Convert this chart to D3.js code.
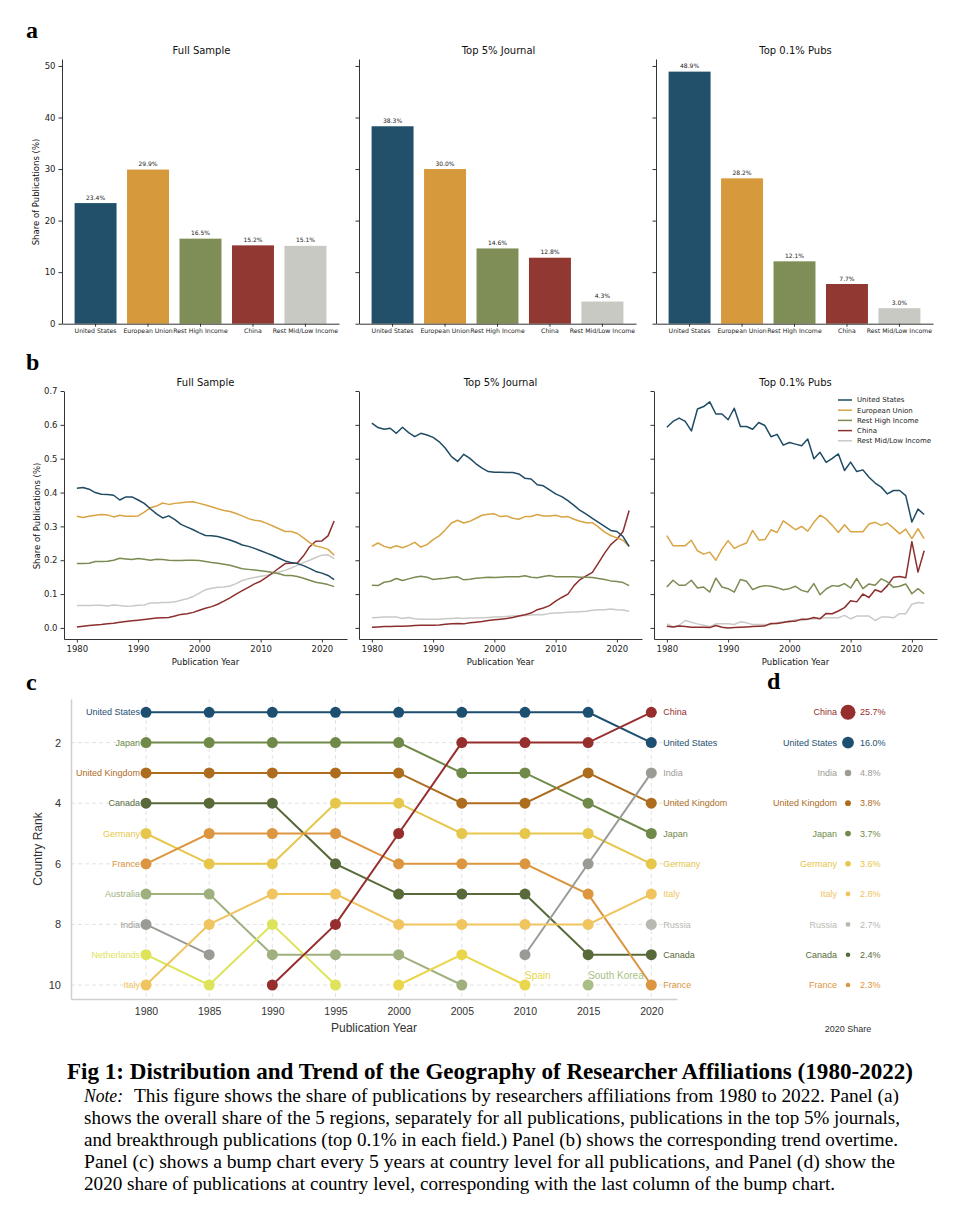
<!DOCTYPE html>
<html><head><meta charset="utf-8">
<script src="https://cdn.jsdelivr.net/npm/d3@7"></script>
<style>body{margin:0;background:#fff}svg{display:block}</style>
</head><body>
<svg id="chart" width="977" height="1232"></svg>
<script>
// ---------------- DATA ----------------
const regions = ["United States","European Union","Rest High Income","China","Rest Mid/Low Income"];
const regionColors = ["#22506a","#d6993c","#7f8e57","#923833","#c8c9c2"];
const lineColors = ["#1f4b63","#d8a444","#7b8b52","#8c2e2e","#c9c9c6"];
const panelTitles = ["Full Sample","Top 5% Journal","Top 0.1% Pubs"];

const shareFull  = [23.4,29.9,16.5,15.2,15.1];
const shareTop5  = [38.3,30.0,14.6,12.8,4.3];
const shareTop01 = [48.9,28.2,12.1,7.7,3.0];
const barTicks = [0,10,20,30,40,50];

const years = [1980,1981,1982,1983,1984,1985,1986,1987,1988,1989,1990,1991,1992,1993,1994,1995,1996,1997,1998,1999,2000,2001,2002,2003,2004,2005,2006,2007,2008,2009,2010,2011,2012,2013,2014,2015,2016,2017,2018,2019,2020,2021,2022];
const lineYTicks = [0,0.1,0.2,0.3,0.4,0.5,0.6,0.7];
const lineXTicks = [1980,1990,2000,2010,2020];

const fullUS  = [0.413,0.415,0.410,0.400,0.395,0.394,0.392,0.378,0.387,0.387,0.378,0.368,0.352,0.337,0.325,0.331,0.320,0.306,0.298,0.290,0.281,0.273,0.272,0.270,0.265,0.260,0.253,0.245,0.241,0.235,0.228,0.221,0.214,0.206,0.198,0.193,0.190,0.184,0.176,0.167,0.162,0.155,0.143];
const fullEU  = [0.330,0.326,0.330,0.333,0.335,0.334,0.328,0.333,0.330,0.330,0.331,0.342,0.355,0.360,0.369,0.365,0.368,0.370,0.372,0.373,0.368,0.363,0.358,0.352,0.347,0.344,0.338,0.331,0.323,0.318,0.316,0.309,0.301,0.293,0.285,0.285,0.279,0.266,0.252,0.242,0.238,0.232,0.215];
const fullRHI = [0.190,0.190,0.191,0.196,0.196,0.197,0.200,0.206,0.204,0.202,0.205,0.203,0.200,0.203,0.202,0.200,0.199,0.199,0.200,0.200,0.199,0.196,0.193,0.191,0.188,0.185,0.180,0.175,0.173,0.171,0.169,0.167,0.164,0.160,0.155,0.155,0.152,0.147,0.141,0.135,0.132,0.128,0.122];
const fullCN  = [0.003,0.005,0.007,0.009,0.010,0.012,0.014,0.017,0.019,0.021,0.023,0.025,0.027,0.029,0.030,0.031,0.035,0.040,0.042,0.046,0.052,0.058,0.063,0.070,0.079,0.089,0.100,0.110,0.120,0.130,0.138,0.150,0.163,0.177,0.190,0.191,0.192,0.213,0.240,0.256,0.257,0.272,0.316];
const fullRML = [0.066,0.066,0.066,0.067,0.067,0.065,0.068,0.066,0.064,0.065,0.067,0.068,0.074,0.074,0.075,0.075,0.077,0.082,0.086,0.093,0.103,0.113,0.117,0.120,0.121,0.124,0.131,0.140,0.145,0.149,0.153,0.155,0.160,0.165,0.170,0.177,0.185,0.193,0.200,0.208,0.215,0.216,0.205];

const top5US  = [0.605,0.592,0.587,0.590,0.575,0.593,0.577,0.565,0.575,0.570,0.563,0.550,0.531,0.506,0.492,0.513,0.501,0.485,0.472,0.462,0.460,0.460,0.459,0.459,0.455,0.442,0.440,0.423,0.420,0.408,0.396,0.388,0.376,0.362,0.347,0.336,0.324,0.312,0.300,0.288,0.285,0.270,0.241];
const top5EU  = [0.241,0.251,0.241,0.236,0.243,0.237,0.244,0.253,0.239,0.246,0.261,0.272,0.290,0.310,0.318,0.310,0.315,0.324,0.333,0.336,0.337,0.329,0.331,0.324,0.321,0.329,0.329,0.335,0.331,0.331,0.333,0.328,0.329,0.321,0.315,0.311,0.311,0.298,0.283,0.273,0.266,0.259,0.241];
const top5RHI = [0.126,0.125,0.135,0.138,0.146,0.140,0.145,0.150,0.153,0.150,0.143,0.145,0.147,0.150,0.151,0.142,0.144,0.147,0.148,0.150,0.149,0.150,0.151,0.151,0.151,0.154,0.150,0.148,0.152,0.155,0.151,0.151,0.151,0.151,0.150,0.150,0.149,0.146,0.143,0.139,0.137,0.134,0.125];
const top5CN  = [0.002,0.003,0.004,0.004,0.005,0.005,0.006,0.007,0.008,0.008,0.008,0.009,0.011,0.012,0.013,0.012,0.015,0.017,0.019,0.022,0.024,0.026,0.028,0.031,0.035,0.039,0.044,0.054,0.059,0.066,0.079,0.090,0.100,0.125,0.143,0.154,0.164,0.192,0.221,0.246,0.262,0.285,0.347];
const top5RML = [0.030,0.031,0.032,0.032,0.032,0.028,0.031,0.027,0.026,0.026,0.026,0.026,0.027,0.028,0.029,0.028,0.029,0.029,0.030,0.031,0.032,0.033,0.034,0.035,0.036,0.037,0.038,0.040,0.039,0.043,0.044,0.045,0.046,0.047,0.048,0.049,0.052,0.054,0.054,0.056,0.054,0.053,0.049];

const top01US  = [0.593,0.610,0.620,0.610,0.582,0.647,0.654,0.668,0.632,0.632,0.615,0.649,0.595,0.595,0.587,0.607,0.598,0.565,0.572,0.540,0.548,0.543,0.538,0.558,0.500,0.519,0.489,0.501,0.514,0.465,0.490,0.462,0.467,0.445,0.428,0.416,0.396,0.406,0.406,0.391,0.313,0.351,0.335];
const top01EU  = [0.273,0.243,0.243,0.243,0.259,0.228,0.218,0.224,0.200,0.233,0.258,0.235,0.244,0.251,0.288,0.260,0.261,0.290,0.282,0.316,0.304,0.290,0.300,0.286,0.312,0.333,0.322,0.303,0.282,0.305,0.284,0.284,0.284,0.307,0.312,0.303,0.310,0.295,0.278,0.292,0.264,0.293,0.264];
const top01RHI = [0.121,0.141,0.126,0.126,0.141,0.118,0.121,0.106,0.147,0.121,0.116,0.106,0.143,0.138,0.113,0.121,0.125,0.123,0.119,0.113,0.116,0.123,0.111,0.106,0.131,0.098,0.115,0.125,0.123,0.131,0.118,0.146,0.116,0.130,0.126,0.145,0.136,0.120,0.123,0.130,0.101,0.116,0.101];
const top01CN  = [0.005,0.003,0.006,0.004,0.002,0.002,0.002,0.001,0.007,0.002,0.000,0.001,0.002,0.003,0.004,0.005,0.006,0.013,0.013,0.016,0.020,0.020,0.026,0.026,0.031,0.027,0.043,0.042,0.050,0.060,0.080,0.077,0.100,0.090,0.113,0.106,0.125,0.150,0.152,0.148,0.255,0.165,0.228];
const top01RML = [0.012,0.003,0.008,0.022,0.017,0.012,0.008,0.004,0.012,0.012,0.012,0.010,0.018,0.015,0.010,0.010,0.010,0.010,0.015,0.018,0.016,0.025,0.022,0.025,0.027,0.028,0.030,0.030,0.030,0.037,0.027,0.035,0.035,0.035,0.022,0.032,0.032,0.030,0.042,0.042,0.070,0.075,0.073];

// bump chart
const bumpYears = [1980,1985,1990,1995,2000,2005,2010,2015,2020];
const rankTicks = [2,4,6,8,10];
const bumpCountries = ["United States","Japan","United Kingdom","Canada","Germany","France","Australia","India","Netherlands","Italy","China","Spain","South Korea","Russia"];
const bumpColors    = ["#1d4f70","#6f8a48","#ae6d1e","#586a3a","#e6c64b","#dc9640","#9fb07f","#9b9b96","#dde45a","#f0c45e","#962e2e","#e9d64b","#a9bf86","#b9b9b3"];
const rankUS   = [1,1,1,1,1,1,1,1,2];
const rankJP   = [2,2,2,2,2,3,3,4,5];
const rankUK   = [3,3,3,3,3,4,4,3,4];
const rankCA   = [4,4,4,6,7,7,7,9,9];
const rankDE   = [5,6,6,4,4,5,5,5,6];
const rankFR   = [6,5,5,5,6,6,6,7,10];
const rankAU   = [7,7,9,9,9,10,null,null,null];
const rankIN   = [8,9,null,null,null,null,9,6,3];
const rankNL   = [9,10,8,10,null,null,null,null,null];
const rankIT   = [10,8,7,7,8,8,8,8,7];
const rankCN   = [null,null,10,8,5,2,2,2,1];
const rankES   = [null,null,null,null,10,9,10,null,null];
const rankKR   = [null,null,null,null,null,null,null,10,null];
const rankRU   = [null,null,null,null,null,null,null,null,8];
const bumpRanks = [rankUS,rankJP,rankUK,rankCA,rankDE,rankFR,rankAU,rankIN,rankNL,rankIT,rankCN,rankES,rankKR,rankRU];
const midLabels = ["Spain","South Korea"];

// panel d
const countries2020 = ["China","United States","India","United Kingdom","Japan","Germany","Italy","Russia","Canada","France"];
const share2020 = [25.7,16.0,4.8,3.8,3.7,3.6,2.8,2.7,2.4,2.3];

const captionTitle = "Fig 1: Distribution and Trend of the Geography of Researcher Affiliations (1980-2022)";
const noteLines = [
 "This figure shows the share of publications by researchers affiliations from 1980 to 2022. Panel (a)",
 "shows the overall share of the 5 regions, separately for all publications, publications in the top 5% journals,",
 "and breakthrough publications (top 0.1% in each field.) Panel (b) shows the corresponding trend overtime.",
 "Panel (c) shows a bump chart every 5 years at country level for all publications, and Panel (d) show the",
 "2020 share of publications at country level, corresponding with the last column of the bump chart."
];

// ---------------- DRAW ----------------
const svg = d3.select("#chart");
svg.append("rect").attr("width",977).attr("height",1232).attr("fill","#fff");
const MPL = "'DejaVu Sans', sans-serif";
const ARIAL = "'Liberation Sans', Arial, sans-serif";
const SERIF = "'Liberation Serif', 'Times New Roman', serif";
const AX = "#333";

function styleAxis(g, fs, family, color) {
  g.selectAll(".domain").attr("stroke", color || AX).attr("stroke-width", 1);
  g.selectAll(".tick line").attr("stroke", color || AX).attr("stroke-width", 1);
  g.selectAll(".tick text").attr("fill", "#222").style("fill", "#222").attr("font-size", fs).attr("font-family", family);
}

// panel letters
[["a",26,38],["b",26,370],["c",26,690],["d",767,689]].forEach(([t,x,y])=>{
  svg.append("text").attr("x",x).attr("y",y).text(t)
    .attr("font-family",SERIF).attr("font-weight","bold").attr("font-size",24).attr("fill","#000");
});

// ---- Panel a ----
const barSets = [shareFull, shareTop5, shareTop01];
const aX0 = [62,359,656], aW = 277, aTop = 59, aBot = 323.7;
const yA = d3.scaleLinear().domain([0,51.35]).range([aBot,aTop]);
barSets.forEach((vals,i)=>{
  const x = d3.scaleBand().domain(regions).range([aX0[i], aX0[i]+aW]).paddingInner(0.2).paddingOuter(0.24);
  const g = svg.append("g");
  g.selectAll("rect").data(regions).join("rect")
    .attr("x", d=>x(d)).attr("width", x.bandwidth())
    .attr("y", (d,j)=>yA(vals[j])).attr("height", (d,j)=>aBot - yA(vals[j]))
    .attr("fill", (d,j)=>regionColors[j]);
  g.selectAll("text.v").data(regions).join("text").attr("class","v")
    .attr("x", d=>x(d)+x.bandwidth()/2).attr("y", (d,j)=>yA(vals[j]) - 3.5)
    .attr("text-anchor","middle").attr("font-size",6).attr("font-family",MPL).attr("fill","#222")
    .text((d,j)=>vals[j].toFixed(1)+"%");
  const gx = svg.append("g").attr("transform",`translate(0,${aBot})`)
    .call(d3.axisBottom(x).tickSize(3).tickSizeOuter(0).tickPadding(2));
  styleAxis(gx, 6.2, MPL);
  const gy = svg.append("g").attr("transform",`translate(${aX0[i]},0)`)
    .call(d3.axisLeft(yA).tickValues(barTicks).tickSize(3.5).tickSizeOuter(0).tickPadding(3)
      .tickFormat(i===0 ? d3.format("d") : ()=>""));
  styleAxis(gy, 8.5, MPL);
  svg.append("text").attr("x", aX0[i]+aW/2+1).attr("y", 54).attr("text-anchor","middle")
    .attr("font-size",10).attr("font-family",MPL).attr("fill","#111").text(panelTitles[i]);
});
svg.append("text").attr("transform","translate(39,192) rotate(-90)").attr("text-anchor","middle")
  .attr("font-size",8.5).attr("font-family",MPL).attr("fill","#111").text("Share of Publications (%)");

// ---- Panel b ----
const lineSets = [
  [fullUS, fullEU, fullRHI, fullCN, fullRML],
  [top5US, top5EU, top5RHI, top5CN, top5RML],
  [top01US, top01EU, top01RHI, top01CN, top01RML]
];
const bX0 = [64,359,654], bW = 283, bTop = 391, bBot = 639;
const yB = d3.scaleLinear().domain([-0.0327,0.7]).range([bBot,bTop]);
lineSets.forEach((series,i)=>{
  const x = d3.scaleLinear().domain([1977.9,2024.1]).range([bX0[i], bX0[i]+bW]);
  const line = d3.line().x((d,k)=>x(years[k])).y(d=>yB(d));
  const order = [4,3,2,1,0];
  order.forEach(j=>{
    svg.append("path").datum(series[j]).attr("d", line)
      .attr("fill","none").attr("stroke", lineColors[j]).attr("stroke-width",1.5).attr("stroke-linejoin","round");
  });
  const gx = svg.append("g").attr("transform",`translate(0,${bBot})`)
    .call(d3.axisBottom(x).tickValues(lineXTicks).tickFormat(d3.format("d")).tickSize(3.5).tickSizeOuter(0).tickPadding(3));
  styleAxis(gx, 8.5, MPL);
  const gy = svg.append("g").attr("transform",`translate(${bX0[i]},0)`)
    .call(d3.axisLeft(yB).tickValues(lineYTicks).tickSize(3.5).tickSizeOuter(0).tickPadding(3)
      .tickFormat(i===0 ? d3.format(".1f") : ()=>""));
  styleAxis(gy, 8.5, MPL);
  svg.append("text").attr("x", bX0[i]+bW/2).attr("y", 386).attr("text-anchor","middle")
    .attr("font-size",10).attr("font-family",MPL).attr("fill","#111").text(panelTitles[i]);
  svg.append("text").attr("x", bX0[i]+bW/2).attr("y", 665).attr("text-anchor","middle")
    .attr("font-size",8.5).attr("font-family",MPL).attr("fill","#111").text("Publication Year");
});
svg.append("text").attr("transform","translate(40,516) rotate(-90)").attr("text-anchor","middle")
  .attr("font-size",8.5).attr("font-family",MPL).attr("fill","#111").text("Share of Publications (%)");
// legend
const leg = svg.append("g");
regions.forEach((r,j)=>{
  const yy = 400 + j*10.2;
  leg.append("line").attr("x1",838).attr("x2",852).attr("y1",yy).attr("y2",yy)
    .attr("stroke",lineColors[j]).attr("stroke-width",1.5);
  leg.append("text").attr("x",857).attr("y",yy).attr("dy","0.35em").attr("font-size",7)
    .attr("font-family",MPL).attr("fill","#222").text(r);
});

// ---- Panel c ----
const cL = 71, cR = 677, cTop = 699, cBot = 999;
const xC = d3.scaleLinear().domain([1980,2020]).range([146,651.3]);
const yC = d3.scaleLinear().domain([1,10]).range([712.3,985]);
const grid = svg.append("g");
bumpYears.forEach(yr=>{
  grid.append("line").attr("x1",xC(yr)).attr("x2",xC(yr)).attr("y1",cTop).attr("y2",cBot)
    .attr("stroke","#dadada").attr("stroke-width",0.8).attr("stroke-dasharray","4,3");
});
rankTicks.forEach(r=>{
  grid.append("line").attr("x1",cL).attr("x2",cR).attr("y1",yC(r)).attr("y2",yC(r))
    .attr("stroke","#dadada").attr("stroke-width",0.8).attr("stroke-dasharray","4,3");
});
const gcx = svg.append("g").attr("transform",`translate(0,${cBot})`)
  .call(d3.axisBottom(d3.scaleLinear().domain([xC.invert(cL), xC.invert(cR)]).range([cL,cR]))
    .tickValues(bumpYears).tickFormat(d3.format("d")).tickSize(0).tickSizeOuter(0).tickPadding(9));
styleAxis(gcx, 10.5, ARIAL, "#cfcfcf");
gcx.select(".domain").attr("stroke-width",1.5);
gcx.selectAll(".tick text").style("fill","#333");
const gcy = svg.append("g").attr("transform",`translate(${cL},0)`)
  .call(d3.axisLeft(d3.scaleLinear().domain([yC.invert(cTop), yC.invert(cBot)]).range([cTop,cBot]))
    .tickValues(rankTicks).tickFormat(d3.format("d")).tickSize(0).tickSizeOuter(0).tickPadding(10));
styleAxis(gcy, 11, ARIAL, "#cfcfcf");
gcy.select(".domain").attr("stroke-width",1.5);
gcy.selectAll(".tick text").style("fill","#333");
svg.append("text").attr("transform","translate(42,849) rotate(-90)").attr("text-anchor","middle")
  .attr("font-size",12).attr("font-family",ARIAL).attr("fill","#333").text("Country Rank");
svg.append("text").attr("x",(cL+cR)/2).attr("y",1031.5).attr("text-anchor","middle")
  .attr("font-size",12).attr("font-family",ARIAL).attr("fill","#333").text("Publication Year");

const bumpG = svg.append("g");
bumpCountries.forEach((c,i)=>{
  const ranks = bumpRanks[i];
  const pts = bumpYears.map((yr,k)=>({yr, r: ranks[k]}));
  const line = d3.line().defined(d=>d.r!=null).x(d=>xC(d.yr)).y(d=>yC(d.r));
  bumpG.append("path").datum(pts).attr("d",line).attr("fill","none")
    .attr("stroke",bumpColors[i]).attr("stroke-width",2);
});
bumpCountries.forEach((c,i)=>{
  const ranks = bumpRanks[i];
  const pts = bumpYears.map((yr,k)=>({yr, r: ranks[k]})).filter(d=>d.r!=null);
  bumpG.selectAll(null).data(pts).join("circle")
    .attr("cx",d=>xC(d.yr)).attr("cy",d=>yC(d.r)).attr("r",5.5).attr("fill",bumpColors[i]);
  if (ranks[0]!=null) {
    svg.append("text").attr("x",xC(bumpYears[0])-6).attr("y",yC(ranks[0])).attr("dy","0.35em")
      .attr("text-anchor","end").attr("font-size",9).attr("font-family",ARIAL).attr("fill",bumpColors[i]).text(c);
  }
  const last = ranks.length-1;
  if (ranks[last]!=null) {
    svg.append("text").attr("x",xC(bumpYears[last])+12).attr("y",yC(ranks[last])).attr("dy","0.35em")
      .attr("text-anchor","start").attr("font-size",9).attr("font-family",ARIAL).attr("fill",bumpColors[i]).text(c);
  }
  if (midLabels.includes(c)) {
    const lp = pts[pts.length-1];
    svg.append("text").attr("x",xC(lp.yr)).attr("y",yC(lp.r)-6)
      .attr("text-anchor","start").attr("font-size",10).attr("font-family",ARIAL).attr("fill",bumpColors[i]).text(c);
  }
});

// ---- Panel d ----
const rScale = d3.scaleSqrt().domain([0,25.7]).range([0,7.5]);
const yD = d3.scaleBand().domain(countries2020).range([yC(0.5), yC(10.5)]);
countries2020.forEach((c,i)=>{
  const col = bumpColors[bumpCountries.indexOf(c)];
  const cy = yD(c) + yD.bandwidth()/2;
  svg.append("circle").attr("cx",848).attr("cy",cy).attr("r",rScale(share2020[i])).attr("fill",col);
  svg.append("text").attr("x",837).attr("y",cy).attr("dy","0.35em").attr("text-anchor","end")
    .attr("font-size",9).attr("font-family",ARIAL).attr("fill",col).text(c);
  svg.append("text").attr("x",860).attr("y",cy).attr("dy","0.35em").attr("text-anchor","start")
    .attr("font-size",9).attr("font-family",ARIAL).attr("fill",col).text(share2020[i].toFixed(1)+"%");
});
svg.append("text").attr("x",848).attr("y",1032).attr("text-anchor","middle")
  .attr("font-size",9).attr("font-family",ARIAL).attr("fill","#333").text("2020 Share");

// ---- Caption ----
svg.append("text").attr("x",67).attr("y",1079).attr("font-family",SERIF).attr("font-weight","bold")
  .attr("font-size",23).attr("fill","#000").attr("textLength",846).attr("lengthAdjust","spacingAndGlyphs")
  .text(captionTitle);
svg.append("text").attr("x",84).attr("y",1102).attr("font-family",SERIF).attr("font-style","italic")
  .attr("font-size",19).attr("fill","#000").attr("textLength",39).attr("lengthAdjust","spacingAndGlyphs").text("Note:");
const noteX = [134,84,84,84,84], noteEnd = [899,900,898,895,835];
noteLines.forEach((t,i)=>{
  svg.append("text").attr("x",noteX[i]).attr("y",1102+i*22).attr("font-family",SERIF)
    .attr("font-size",19).attr("fill","#000").attr("textLength",noteEnd[i]-noteX[i])
    .attr("lengthAdjust","spacingAndGlyphs").text(t);
});
</script>
</body></html>
